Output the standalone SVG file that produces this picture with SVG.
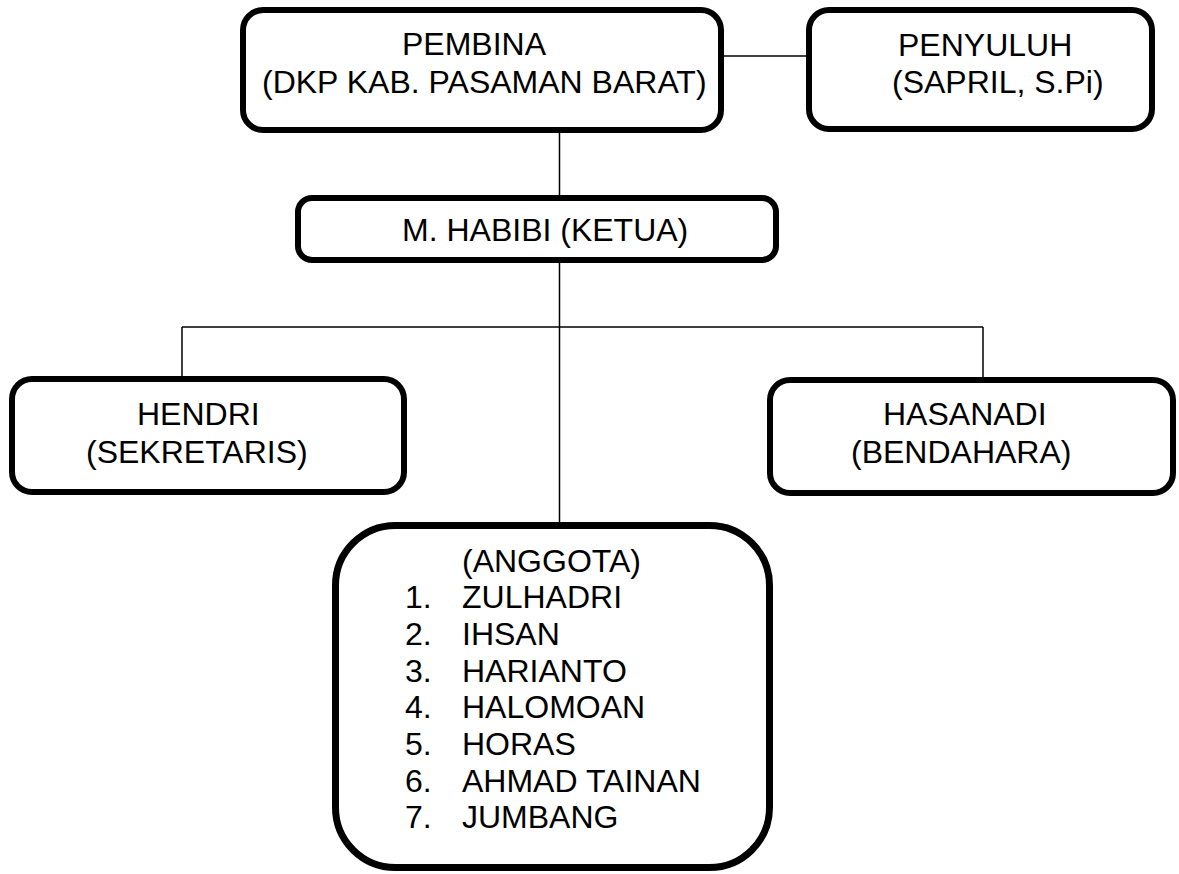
<svg xmlns="http://www.w3.org/2000/svg" width="1179" height="874" viewBox="0 0 1179 874">
<style>
.box{fill:#fff;stroke:#000;stroke-width:6}
.t{font-family:"Liberation Sans",Arial,sans-serif;font-size:32px;fill:#000}
.c{fill:none;stroke:#000;stroke-width:1.5}
</style>
<rect width="1179" height="874" fill="#fff"/>
<g id="connectors">
<line class="c" x1="724" y1="56" x2="806" y2="56"/>
<line class="c" x1="559.5" y1="133" x2="559.5" y2="195"/>
<line class="c" x1="559.5" y1="263" x2="559.5" y2="522"/>
<line class="c" x1="182" y1="327" x2="983" y2="327"/>
<line class="c" x1="182" y1="327" x2="182" y2="376"/>
<line class="c" x1="983" y1="327" x2="983" y2="377"/>
</g>
<g id="pembina">
<rect class="box" x="243" y="10" width="478" height="120" rx="20"/>
<text class="t" x="402" y="55">PEMBINA</text>
<text class="t" x="262" y="92.7">(DKP KAB. PASAMAN BARAT)</text>
</g>
<g id="penyuluh">
<rect class="box" x="809" y="10" width="343" height="119" rx="20"/>
<text class="t" x="898" y="56">PENYULUH</text>
<text class="t" x="892" y="92.7">(SAPRIL, S.Pi)</text>
</g>
<g id="ketua">
<rect class="box" x="298" y="198" width="478" height="62" rx="14"/>
<text class="t" x="402" y="241">M. HABIBI (KETUA)</text>
</g>
<g id="sekretaris">
<rect class="box" x="12" y="379" width="392" height="113" rx="20"/>
<text class="t" x="137" y="425">HENDRI</text>
<text class="t" x="86" y="463">(SEKRETARIS)</text>
</g>
<g id="bendahara">
<rect class="box" x="770" y="380" width="403" height="113" rx="20"/>
<text class="t" x="883" y="425">HASANADI</text>
<text class="t" x="851" y="463">(BENDAHARA)</text>
</g>
<g id="anggota">
<rect class="box" x="335.5" y="525.5" width="434" height="342" rx="60" style="stroke-width:7"/>
<text class="t" x="462" y="571.7">(ANGGOTA)</text>
<text class="t" x="405" y="608.3">1.</text><text class="t" x="462" y="608.3">ZULHADRI</text>
<text class="t" x="405" y="645">2.</text><text class="t" x="462" y="645">IHSAN</text>
<text class="t" x="405" y="681.7">3.</text><text class="t" x="462" y="681.7">HARIANTO</text>
<text class="t" x="405" y="718.3">4.</text><text class="t" x="462" y="718.3">HALOMOAN</text>
<text class="t" x="405" y="755">5.</text><text class="t" x="462" y="755">HORAS</text>
<text class="t" x="405" y="791.7">6.</text><text class="t" x="462" y="791.7">AHMAD TAINAN</text>
<text class="t" x="405" y="828.3">7.</text><text class="t" x="462" y="828.3">JUMBANG</text>
</g>
</svg>
